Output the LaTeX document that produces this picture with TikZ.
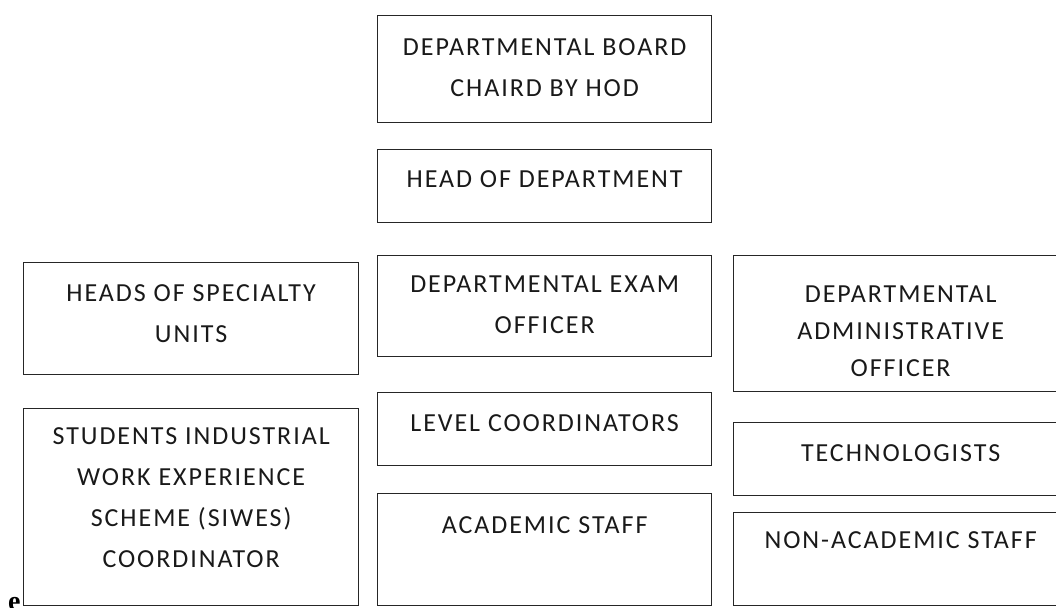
\documentclass[tikz,border=0pt]{standalone}
\usepackage{fontspec}
\setmainfont{Carlito}[LetterSpace=7.5]
\newfontfamily\serifbold{Liberation Serif}[BoldFont={Liberation Serif Bold}]
\begin{document}
\begin{tikzpicture}[x=1pt,y=-1pt,
  box/.style={draw=black!85,line width=1.3pt,inner sep=0pt,anchor=north west},
  lbl/.style={inner sep=0pt,anchor=north,align=center,text=black!90,
    font=\fontsize{26}{41}\selectfont},
  lbltight/.style={lbl,font=\fontsize{26}{37}\selectfont}]
\useasboundingbox (0,0) rectangle (1056,607);
\clip (0,0) rectangle (1056,607);
% boxes: top-left corner, width, height
\node[box,minimum width=334pt,minimum height=107pt] (b1) at (377,15) {};
\node[box,minimum width=334pt,minimum height=73pt]  (b2) at (377,149) {};
\node[box,minimum width=335pt,minimum height=112pt] (b3) at (23,262) {};
\node[box,minimum width=334pt,minimum height=101pt] (b4) at (377,255) {};
\node[box,minimum width=334pt,minimum height=136pt] (b5) at (733,255) {};
\node[box,minimum width=335pt,minimum height=197pt] (b6) at (23,408) {};
\node[box,minimum width=334pt,minimum height=73pt]  (b7) at (377,392) {};
\node[box,minimum width=334pt,minimum height=73pt]  (b8) at (733,422) {};
\node[box,minimum width=334pt,minimum height=112pt] (b9) at (377,493) {};
\node[box,minimum width=334pt,minimum height=93pt]  (b10) at (733,512) {};
% labels near the top of each box
\node[lbl] (t1) at ([yshift=-23pt]b1.north) {DEPARTMENTAL BOARD\\CHAIRD BY HOD};
\node[lbl] (t2) at ([yshift=-21pt]b2.north) {HEAD OF DEPARTMENT};
\node[lbl] (t3) at ([yshift=-22pt]b3.north) {HEADS OF SPECIALTY\\UNITS};
\node[lbl] (t4) at ([yshift=-21pt]b4.north) {DEPARTMENTAL EXAM\\OFFICER};
\node[lbltight] (t5) at ([yshift=-31pt]b5.north) {DEPARTMENTAL\\ADMINISTRATIVE\\OFFICER};
\node[lbl] (t6) at ([yshift=-19pt]b6.north) {STUDENTS INDUSTRIAL\\WORK EXPERIENCE\\SCHEME (SIWES)\\COORDINATOR};
\node[lbl] (t7) at ([yshift=-22pt]b7.north) {LEVEL COORDINATORS};
\node[lbl] (t8) at ([yshift=-22pt]b8.north) {TECHNOLOGISTS};
\node[lbl] (t9) at ([yshift=-23pt]b9.north) {ACADEMIC STAFF};
\node[lbl] (t10) at ([yshift=-19pt]b10.north) {NON-ACADEMIC STAFF};
% stray letter at the lower left
\node[inner sep=0pt,anchor=base west,font=\serifbold\bfseries\fontsize{28}{30}\selectfont] (e) at (8,610) {e};
\end{tikzpicture}
\end{document}
